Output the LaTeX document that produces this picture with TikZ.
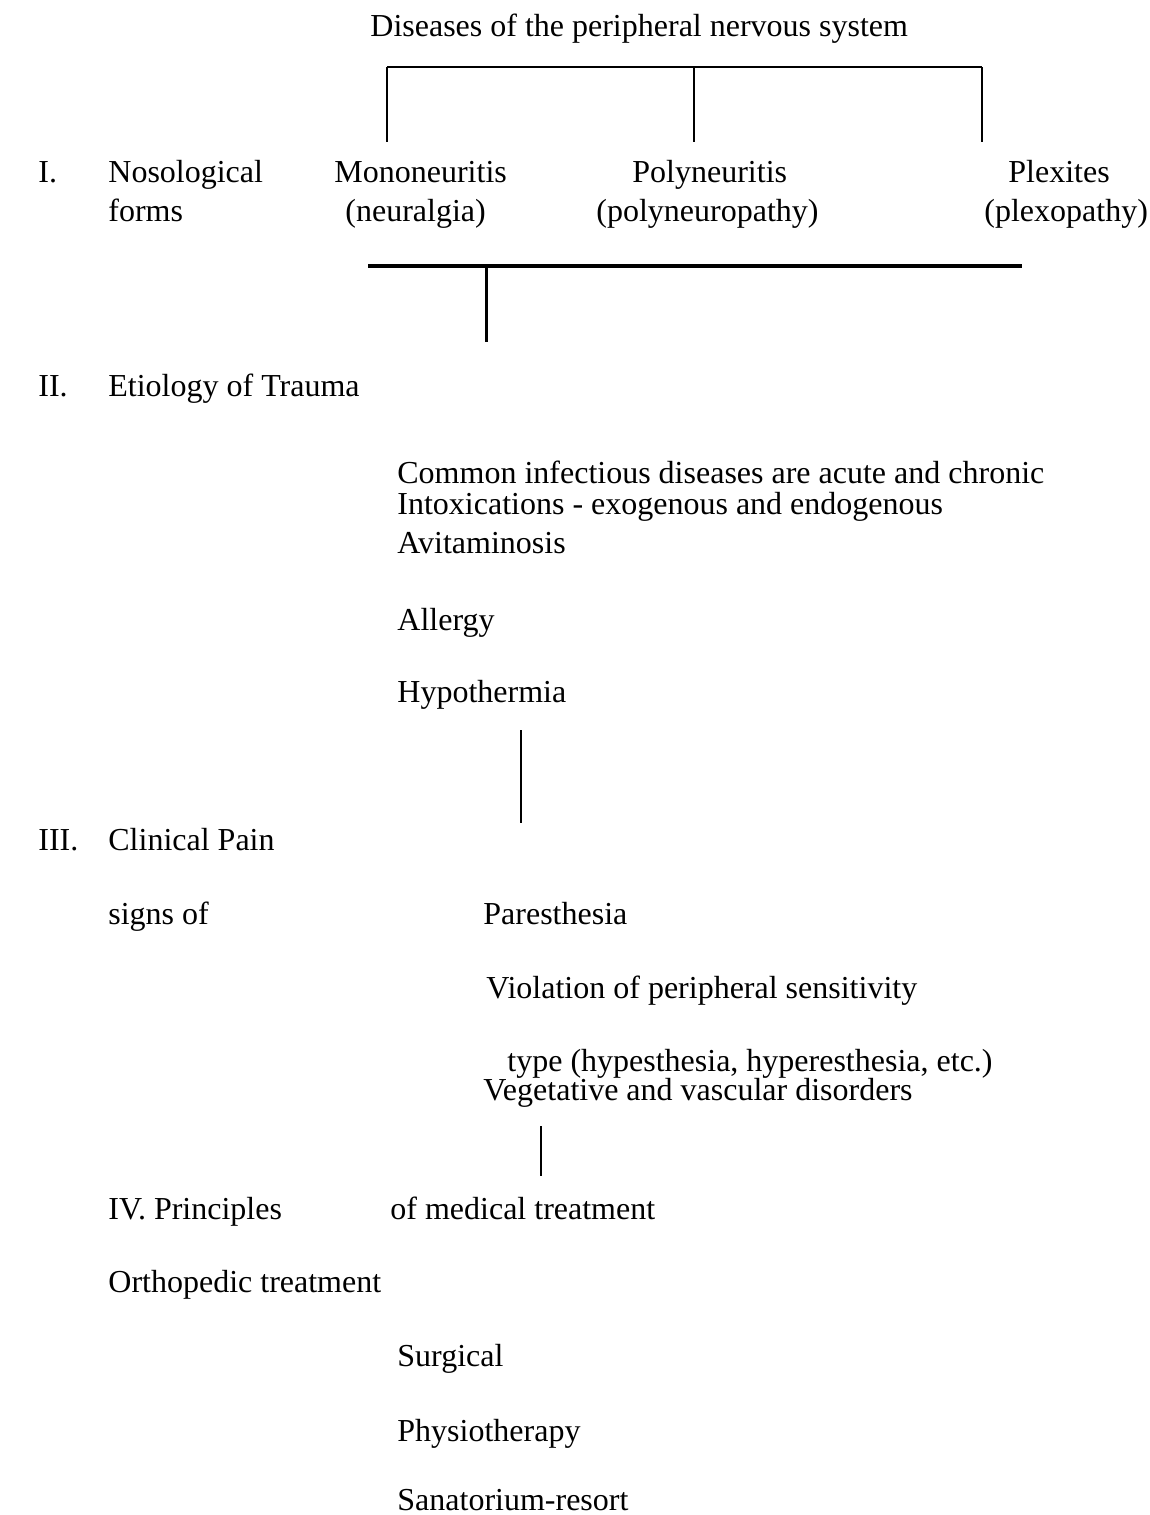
\documentclass[tikz,border=0pt]{standalone}
\usepackage{fontspec}
\setmainfont{Liberation Serif}

\begin{document}
\begin{tikzpicture}[x=0.5pt,y=-0.5pt,
  lbl/.style={anchor=base west,inner sep=0pt,font=\fontsize{16}{19}\selectfont},
  thin line/.style={line width=1pt},
  bold line/.style={line width=2.2pt}]
\useasboundingbox (0,0) rectangle (1150,1515);

\node[lbl] (title) at (370,36) {Diseases of the peripheral nervous system};

\coordinate (topL) at (387,67);
\coordinate (topM) at (694,67);
\coordinate (topR) at (982,67);
\coordinate (monoEnd) at (387,142);
\coordinate (polyEnd) at (694,142);
\coordinate (plexEnd) at (982,142);
\draw[thin line] (topL)--(topR);
\draw[thin line] (topL)--(monoEnd);
\draw[thin line] (topM)--(polyEnd);
\draw[thin line] (topR)--(plexEnd);

\node[lbl] (numI) at (38,182) {I.};
\node[lbl] (noso) at (108,182) {Nosological};
\node[lbl] (forms) at (108,221) {forms};
\node[lbl] (mono) at (334,182) {Mononeuritis};
\node[lbl] (neur) at (345,221) {(neuralgia)};
\node[lbl] (poly) at (632,182) {Polyneuritis};
\node[lbl] (polyp) at (596,221) {(polyneuropathy)};
\node[lbl] (plex) at (1008,182) {Plexites};
\node[lbl] (plexp) at (984,221) {(plexopathy)};

\coordinate (barL) at (368,266);
\coordinate (barR) at (1022,266);
\coordinate (barM) at (486,266);
\coordinate (barEnd) at (486,342);
\draw[bold line] (barL)--(barR);
\draw[line width=1.5pt] (barM)--(barEnd);

\node[lbl] (numII) at (38,396) {II.};
\node[lbl] (etio) at (108,396) {Etiology of Trauma};

\node[lbl] (infect) at (397,483) {Common infectious diseases are acute and chronic};
\node[lbl] (intox) at (397,514) {Intoxications - exogenous and endogenous};
\node[lbl] (avit) at (397,553) {Avitaminosis};
\node[lbl] (allergy) at (397,630) {Allergy};
\node[lbl] (hypo) at (397,702) {Hypothermia};

\coordinate (hypoTop) at (521,730);
\coordinate (hypoEnd) at (521,823);
\draw[thin line] (hypoTop)--(hypoEnd);

\node[lbl] (numIII) at (38,850) {III.};
\node[lbl] (clin) at (108,850) {Clinical Pain};

\node[lbl] (signs) at (108,924) {signs of};
\node[lbl] (pares) at (483,924) {Paresthesia};
\node[lbl] (viol) at (486,998) {Violation of peripheral sensitivity};
\node[lbl] (type) at (507,1071) {type (hypesthesia, hyperesthesia, etc.)};
\node[lbl] (veget) at (483,1100) {Vegetative and vascular disorders};

\coordinate (vegTop) at (541,1126);
\coordinate (vegEnd) at (541,1176);
\draw[thin line] (vegTop)--(vegEnd);

\node[lbl] (princ) at (108,1219) {IV. Principles};
\node[lbl] (medic) at (390,1219) {of medical treatment};
\node[lbl] (ortho) at (108,1292) {Orthopedic treatment};

\node[lbl] (surg) at (397,1366) {Surgical};
\node[lbl] (physio) at (397,1441) {Physiotherapy};
\node[lbl] (sanat) at (397,1510) {Sanatorium-resort};
\end{tikzpicture}
\end{document}
